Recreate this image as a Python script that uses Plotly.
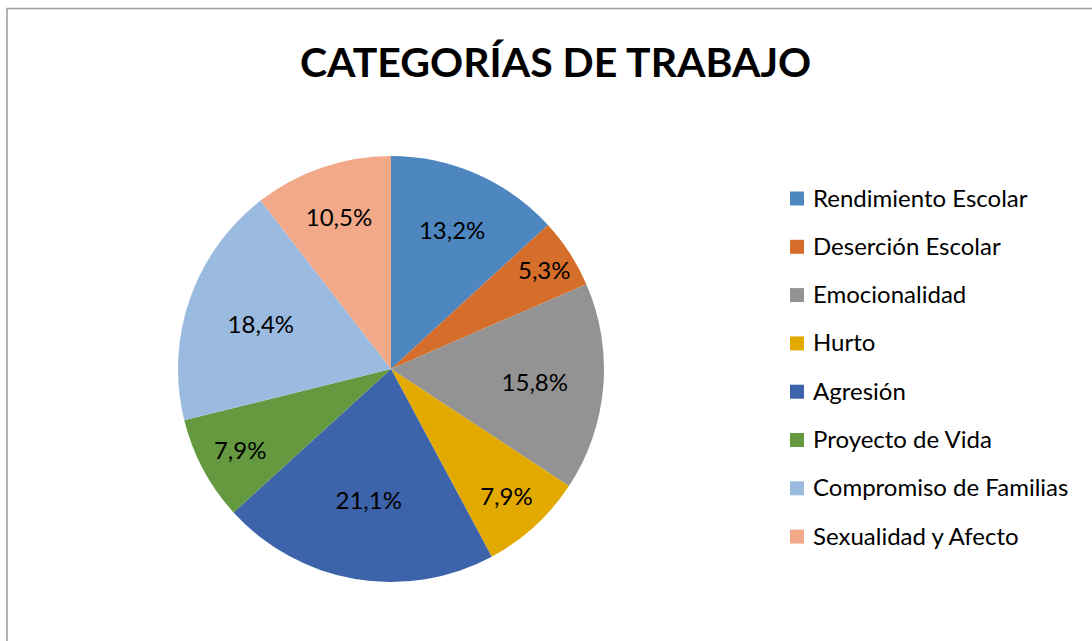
import plotly.graph_objects as go

categories = ["Rendimiento Escolar", "Deserción Escolar", "Emocionalidad", "Hurto",
              "Agresión", "Proyecto de Vida", "Compromiso de Familias", "Sexualidad y Afecto"]
percentages = [13.2, 5.3, 15.8, 7.9, 21.1, 7.9, 18.4, 10.5]
colors = ["#4E87C0", "#D66E2B", "#939393", "#E2A900", "#3D63AB", "#64993F", "#9BBADF", "#F1A98A"]
title_text = "CATEGORÍAS DE TRABAJO"

W, H = 1092, 641
FONT = "Lato, 'Open Sans', sans-serif"

# pie geometry (pixels)
cx, cy, r = 391, 369, 213

fig = go.Figure()
fig.add_trace(go.Pie(
    labels=categories,
    values=percentages,
    marker=dict(colors=colors, line=dict(width=0)),
    sort=False,
    direction="clockwise",
    rotation=0,
    texttemplate="%{value:.1f}%",
    textposition="inside",
    insidetextorientation="horizontal",
    textfont=dict(family=FONT, size=24, color="#000000"),
    showlegend=False,
    hoverinfo="label+percent",
    domain=dict(x=[(cx - r) / W, (cx + r) / W], y=[1 - (cy + r) / H, 1 - (cy - r) / H]),
))

shapes = [dict(type="rect", xref="paper", yref="paper",
               x0=7 / W, x1=1.05, y0=-0.05, y1=1 - 8.5 / H,
               line=dict(color="#9A9A9A", width=1.5), fillcolor="rgba(0,0,0,0)", layer="below")]
annotations = [dict(text="<b>" + title_text + "</b>", xref="paper", yref="paper",
                    x=555 / W, y=1 - 61 / H, xanchor="center", yanchor="middle",
                    showarrow=False, font=dict(family=FONT, size=41, color="#000000"))]

# legend (manual, for Excel-like spacing)
lx0, ly0, step, sq = 790, 198.5, 48.3, 14
for i, (lab, col) in enumerate(zip(categories, colors)):
    yc = ly0 + i * step
    shapes.append(dict(type="rect", xref="paper", yref="paper",
                       x0=lx0 / W, x1=(lx0 + sq) / W,
                       y0=1 - (yc + sq / 2) / H, y1=1 - (yc - sq / 2) / H,
                       line=dict(width=0), fillcolor=col))
    annotations.append(dict(text=lab, xref="paper", yref="paper",
                            x=(lx0 + 21) / W, y=1 - (yc - 1.5) / H, xanchor="left", yanchor="middle",
                            showarrow=False, font=dict(family=FONT, size=24, color="#000000")))

fig.update_layout(
    width=W, height=H,
    margin=dict(l=0, r=0, t=0, b=0),
    paper_bgcolor="white", plot_bgcolor="white",
    separators=",.",
    shapes=shapes,
    annotations=annotations,
    showlegend=False,
)

fig.write_html("out.html", config={"displayModeBar": False},
               post_script="document.body.style.margin='0';")
